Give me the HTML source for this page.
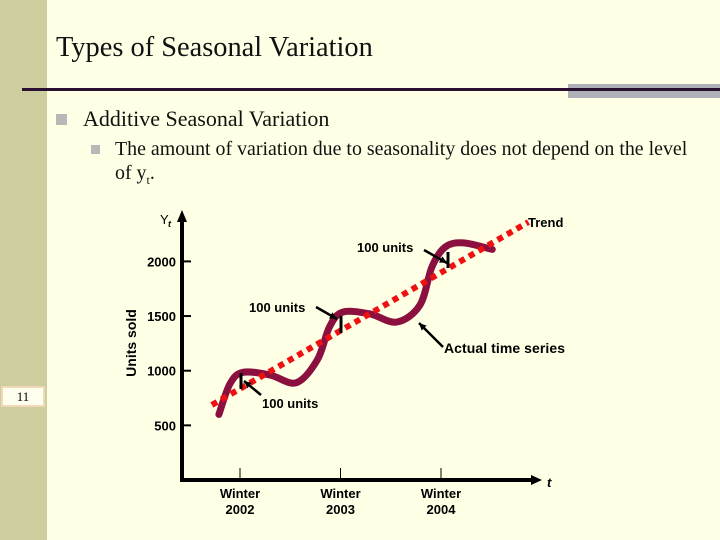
<!DOCTYPE html>
<html><head><meta charset="utf-8"><style>
body{margin:0;width:720px;height:540px;overflow:hidden;background:#FFFFE6;position:relative;font-family:"Liberation Serif",serif}
.abs{position:absolute;white-space:nowrap}
</style></head><body>
<div class="abs" style="left:0;top:0;width:47px;height:540px;background:#CDCD9E"></div>
<div class="abs" style="left:56px;top:32px;font-size:28.4px;color:#111">Types of Seasonal Variation</div>
<div class="abs" style="left:568px;top:84px;width:152px;height:14px;background:#b0b0b8"></div>
<div class="abs" style="left:22px;top:88px;width:698px;height:3px;background:#2a1030"></div>
<div class="abs" style="left:56px;top:114px;width:11px;height:11px;background:#b8b8b8"></div>
<div class="abs" style="left:83px;top:106px;font-size:22px;color:#111">Additive Seasonal Variation</div>
<div class="abs" style="left:91px;top:145px;width:9px;height:9px;background:#b8b8b8"></div>
<div class="abs" style="left:115px;top:137px;font-size:19.9px;color:#111;line-height:24px">The amount of variation due to seasonality does not depend on the level<br>of y<sub style="font-size:12px">t</sub>.</div>
<div class="abs" style="left:1px;top:386px;width:40px;height:17px;border:2px solid #f0d8b8;background:#fffff0;font-size:13px;text-align:center;line-height:17px">11</div>
<svg class="abs" style="left:0;top:0" width="720" height="540">
<g id="chart" font-family="Liberation Sans, sans-serif" font-weight="bold" font-size="13"></g>
</svg>
<script>
const yTicks=[500,1000,1500,2000];
const xYears=[2002,2003,2004];
const trendYears=[2001.72,2004.87];
const trendValues=[686,2360];
const seriesYears=[2001.79,2001.90,2002.03,2002.30,2002.56,2002.77,2002.89,2003.02,2003.29,2003.56,2003.79,2003.91,2004.04,2004.22,2004.51];
const seriesValues=[600,880,985,960,890,1100,1400,1535,1520,1445,1600,1950,2130,2170,2110];
const X=y=>240+(y-2002)*100.5;
const Y=v=>480-v*0.1093;
const g=document.getElementById('chart');
const NS='http://www.w3.org/2000/svg';
function mk(t,a,txt){const e=document.createElementNS(NS,t);for(const k in a)e.setAttribute(k,a[k]);if(txt!=null)e.textContent=txt;g.appendChild(e);return e;}
let e;
e=mk('line',{x1:182,y1:480,x2:182,y2:218,stroke:'#000','stroke-width':4});


e=mk('polygon',{points:'182,210 177,222 187,222',fill:'#000'});


e=mk('line',{x1:180,y1:480,x2:533,y2:480,stroke:'#000','stroke-width':4});


e=mk('polygon',{points:'542,480 531,475 531,485',fill:'#000'});


yTicks.forEach(v=>{
 e=mk('line',{x1:182,y1:Y(v),x2:191,y2:Y(v),stroke:'#000','stroke-width':2});
 
 
 e=mk('text',{x:176,y:Y(v)+5,'text-anchor':'end'},v);
 
 
});
xYears.forEach(yr=>{
 e=mk('line',{x1:X(yr),y1:468,x2:X(yr),y2:480,stroke:'#000','stroke-width':1});
 
 
 e=mk('text',{x:X(yr),y:498,'text-anchor':'middle'},'Winter');
 
 
 e=mk('text',{x:X(yr),y:514,'text-anchor':'middle'},yr);
 
 
});
const P=seriesYears.map((yr,i)=>[X(yr),Y(seriesValues[i])]);
let d='M'+P[0][0]+','+P[0][1];
for(let i=0;i<P.length-1;i++){const p0=P[i-1]||P[i],p1=P[i],p2=P[i+1],p3=P[i+2]||P[i+1];
 d+=` C${p1[0]+(p2[0]-p0[0])/6},${p1[1]+(p2[1]-p0[1])/6} ${p2[0]-(p3[0]-p1[0])/6},${p2[1]-(p3[1]-p1[1])/6} ${p2[0]},${p2[1]}`;}
e=mk('path',{d:d,fill:'none',stroke:'#8B1040','stroke-width':7,'stroke-linecap':'round'});


e=mk('line',{x1:X(trendYears[0]),y1:Y(trendValues[0]),x2:X(trendYears[1]),y2:Y(trendValues[1]),stroke:'#ee1111','stroke-width':6,'stroke-dasharray':'6,5'});


[[241,373,389],[341,316,333],[448,252,268]].forEach(b=>{
 e=mk('line',{x1:b[0],y1:b[1],x2:b[0],y2:b[2],stroke:'#000','stroke-width':3});
 
 
});
function arrow(x1,y1,x2,y2,name){
 e=mk('line',{x1:x1,y1:y1,x2:x2,y2:y2,stroke:'#000','stroke-width':2.5});
 
 
 const a=Math.atan2(y2-y1,x2-x1),L=8;
 const pts=[[x2,y2],[x2-L*Math.cos(a-0.45),y2-L*Math.sin(a-0.45)],[x2-L*Math.cos(a+0.45),y2-L*Math.sin(a+0.45)]];
 e=mk('polygon',{points:pts.map(p=>p.join(',')).join(' '),fill:'#000'});
 
 
}
arrow(261,395,244,381,'arrow-100-units-1');
arrow(316,307,337,319,'arrow-100-units-2');
arrow(424,250,447,263,'arrow-100-units-3');
arrow(443,347,419,323,'arrow-actual-series');
[[262,408,'100 units'],[249,312,'100 units'],[357,252,'100 units'],[528,227,'Trend']].forEach(t=>{
 e=mk('text',{x:t[0],y:t[1]},t[2]);
 
 
});
e=mk('text',{x:444,y:353,'font-size':14,'textLength':121},'Actual time series');


e=mk('text',{x:160,y:224,'font-size':13,'font-weight':'normal'},'Y');


e=mk('text',{x:168,y:227,'font-size':9,'font-style':'italic'},'t');


e=mk('text',{x:547,y:487,'font-style':'italic'},'t');


e=mk('text',{x:136,y:343,'text-anchor':'middle','font-size':14,transform:'rotate(-90 136 343)'},'Units sold');


</script>
</body></html>
